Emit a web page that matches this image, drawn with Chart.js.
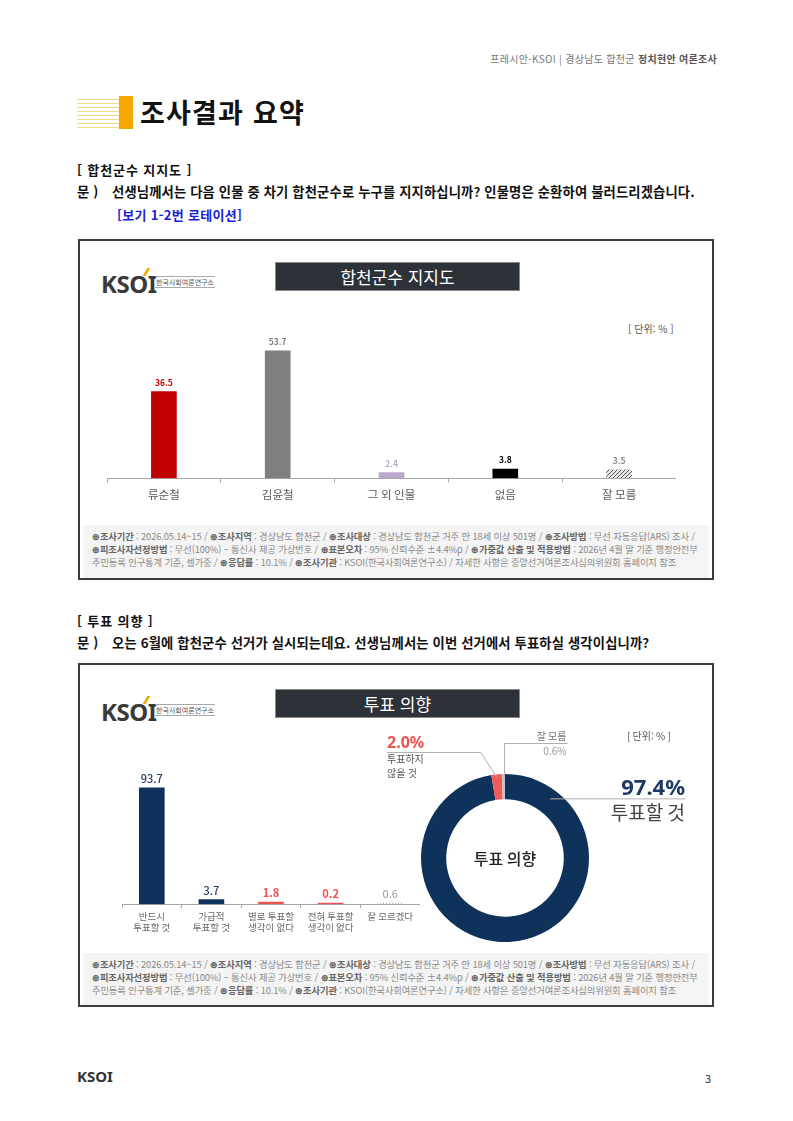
<!DOCTYPE html>
<html lang="ko">
<head>
<meta charset="utf-8">
<script src="https://cdn.jsdelivr.net/npm/chart.js@4.4.1/dist/chart.umd.min.js"></script>
<style>
  html,body{margin:0;padding:0;background:#fff;}
  body{width:793px;height:1121px;position:relative;overflow:hidden;font-family:"Noto Sans CJK KR","Noto Sans",sans-serif;}
  .abs{position:absolute;white-space:nowrap;}
  .hdr{right:76px;top:51px;font-size:10px;color:#777;letter-spacing:0.3px;}
  .hdr b{color:#555;font-weight:700;}
  .icon{left:77px;top:96px;width:56px;height:33px;
    background:repeating-linear-gradient(to bottom,#fff 0px,#fff 3px,#f6d98a 3px,#f6d98a 4px);}
  .icon:after{content:"";position:absolute;right:0;top:0;width:14px;height:33px;background:#f3a900;}
  .title{left:140px;top:92px;font-size:27px;font-weight:700;color:#111;letter-spacing:1.2px;}
  .sec{left:77px;font-size:13px;font-weight:700;color:#111;letter-spacing:0.9px;}
  .q{left:77px;font-size:13.3px;font-weight:700;color:#111;letter-spacing:0.15px;}
  .q span{position:absolute;left:35px;}
  .blue{left:117px;font-size:13px;font-weight:700;color:#1a24d6;letter-spacing:0.3px;}
  .box{position:absolute;left:78px;width:636px;box-sizing:border-box;border:2px solid #3c3c3c;background:#fff;}
  .banner{position:absolute;left:195px;width:245px;height:29px;background:#2d3138;color:#fff;font-size:17px;text-align:center;line-height:28px;border:1px solid #888;box-sizing:border-box;}
  .logo{position:absolute;left:21px;height:24px;width:120px;white-space:nowrap;}
  .logo .k{position:absolute;left:0;top:-3px;font-size:24px;font-weight:700;color:#3a3a3a;letter-spacing:-0.5px;font-family:"Noto Sans","Open Sans",sans-serif;}
  .logo .acc{position:absolute;left:44px;top:-2px;width:3px;height:8px;background:#f3a900;transform:skewX(-30deg);}
  .logo .sub{position:absolute;left:54px;top:6px;font-size:7px;color:#555;border-top:1px solid #aaa;border-bottom:1px solid #aaa;line-height:10px;padding:0 1px;white-space:nowrap;}
  .unit{font-size:10px;color:#555;}
  .foot{position:absolute;left:3px;right:3px;background:#f4f4f4;padding:5px 0 0 9px;box-sizing:border-box;}
  .foot div{font-size:9.3px;color:#8a8a8a;line-height:13px;white-space:nowrap;letter-spacing:-0.12px;}
  .foot b{color:#666;font-weight:700;}
  canvas{position:absolute;}
  .pnum{left:705px;top:1070px;font-size:11px;color:#333;}
  .flogo{left:77px;top:1066px;font-size:15px;font-weight:700;color:#333;font-family:"Noto Sans",sans-serif;}
</style>
</head>
<body>
<div class="abs hdr">프레시안-KSOI | 경상남도 합천군 <b>정치현안 여론조사</b></div>
<div class="abs icon"></div>
<div class="abs title">조사결과 요약</div>

<div class="abs sec" style="top:160px;">[ 합천군수 지지도 ]</div>
<div class="abs q" style="top:182px;">문 )<span>선생님께서는 다음 인물 중 차기 합천군수로 누구를 지지하십니까? 인물명은 순환하여 불러드리겠습니다.</span></div>
<div class="abs blue" style="top:205px;">[보기 1-2번 로테이션]</div>

<div class="box" style="top:239px;height:341px;">
  <div class="logo" style="top:29px;"><span class="k">KSOI</span><span class="acc"></span><span class="sub">한국사회여론연구소</span></div>
  <div class="banner" style="top:21px;">합천군수 지지도</div>
  <div class="abs unit" style="left:548px;top:80px;">[ 단위: % ]</div>
  <div class="foot" style="top:284px;height:53px;">
    <div><b>⊛조사기간</b> : 2026.05.14~15 / <b>⊛조사지역</b> : 경상남도 합천군 / <b>⊛조사대상</b> : 경상남도 합천군 거주 만 18세 이상 501명 / <b>⊛조사방법</b> : 무선 자동응답(ARS) 조사 /</div>
    <div><b>⊛피조사자선정방법</b> : 무선(100%) – 통신사 제공 가상번호 / <b>⊛표본오차</b> : 95% 신뢰수준 ±4.4%p / <b>⊛가중값 산출 및 적용방법</b> : 2026년 4월 말 기준 행정안전부</div>
    <div>주민등록 인구통계 기준, 셀가중 / <b>⊛응답률</b> : 10.1% / <b>⊛조사기관</b> : KSOI(한국사회여론연구소) / 자세한 사항은 중앙선거여론조사심의위원회 홈페이지 참조</div>
  </div>
</div>

<div class="abs sec" style="top:611px;">[ 투표 의향 ]</div>
<div class="abs q" style="top:633px;">문 )<span>오는 6월에 합천군수 선거가 실시되는데요. 선생님께서는 이번 선거에서 투표하실 생각이십니까?</span></div>

<div class="box" style="top:663px;height:344px;">
  <div class="logo" style="top:33px;"><span class="k">KSOI</span><span class="acc"></span><span class="sub">한국사회여론연구소</span></div>
  <div class="banner" style="top:24px;">투표 의향</div>
  <div class="foot" style="top:288px;height:52px;">
    <div><b>⊛조사기간</b> : 2026.05.14~15 / <b>⊛조사지역</b> : 경상남도 합천군 / <b>⊛조사대상</b> : 경상남도 합천군 거주 만 18세 이상 501명 / <b>⊛조사방법</b> : 무선 자동응답(ARS) 조사 /</div>
    <div><b>⊛피조사자선정방법</b> : 무선(100%) – 통신사 제공 가상번호 / <b>⊛표본오차</b> : 95% 신뢰수준 ±4.4%p / <b>⊛가중값 산출 및 적용방법</b> : 2026년 4월 말 기준 행정안전부</div>
    <div>주민등록 인구통계 기준, 셀가중 / <b>⊛응답률</b> : 10.1% / <b>⊛조사기관</b> : KSOI(한국사회여론연구소) / 자세한 사항은 중앙선거여론조사심의위원회 홈페이지 참조</div>
  </div>
</div>

<canvas id="c1" style="left:107px;top:336px;" width="569" height="172"></canvas>
<canvas id="c2" style="left:122px;top:760px;" width="298" height="175"></canvas>
<canvas id="c3" style="left:380px;top:725px;" width="320" height="225"></canvas>

<div class="abs flogo">KSOI</div>
<div class="abs pnum">3</div>

<script>
// ---- data ----
const supportLabels = ['류순철','김윤철','그 외 인물','없음','잘 모름'];
const supportValues = [36.5, 53.7, 2.4, 3.8, 3.5];

const intentLabels = [['반드시','투표할 것'],['가급적','투표할 것'],['별로 투표할','생각이 없다'],['전혀 투표할','생각이 없다'],['잘 모르겠다']];
const intentValues = [93.7, 3.7, 1.8, 0.2, 0.6];

const donutLabels = ['투표할 것','투표하지 않을 것','잘 모름'];
const donutValues = [97.4, 2.0, 0.6];

// ---- styling ----
Chart.defaults.font.family = '"Noto Sans CJK KR","Noto Sans",sans-serif';
Chart.defaults.animation = false;

function hatch(bg, fg){
  const c = document.createElement('canvas'); c.width = 4; c.height = 4;
  const x = c.getContext('2d');
  x.fillStyle = bg; x.fillRect(0,0,4,4);
  x.strokeStyle = fg; x.lineWidth = 1;
  x.beginPath(); x.moveTo(0,4); x.lineTo(4,0); x.moveTo(-1,1); x.lineTo(1,-1); x.moveTo(3,5); x.lineTo(5,3); x.stroke();
  return x.createPattern(c,'repeat');
}
function dots(){
  const c = document.createElement('canvas'); c.width = 3; c.height = 2;
  const x = c.getContext('2d');
  x.fillStyle = '#b5b5b5'; x.fillRect(0,0,1,2);
  return x.createPattern(c,'repeat');
}

const valueLabelPlugin = {
  id: 'valueLabels',
  afterDatasetsDraw(chart, args, opts){
    const ctx = chart.ctx;
    const meta = chart.getDatasetMeta(0);
    ctx.save();
    ctx.textAlign = 'center'; ctx.textBaseline = 'alphabetic';
    meta.data.forEach((el, i) => {
      const v = chart.data.datasets[0].data[i];
      ctx.fillStyle = opts.colors[i];
      ctx.font = (opts.weights ? opts.weights[i] : 'bold') + ' ' + opts.size + 'px "Noto Sans CJK KR","Noto Sans",sans-serif';
      ctx.fillText(v.toFixed(1), el.x, el.y - opts.gap);
    });
    ctx.restore();
  }
};

const axisX = (fontSize, color, pad) => ({
  type: 'category',
  offset: true,
  border: { display: true, color: '#a6a6a6', width: 1 },
  grid: { display: true, offset: true, drawOnChartArea: false, drawTicks: true, tickLength: 4, color: '#a6a6a6' },
  ticks: { font: { size: fontSize }, color: color, padding: pad, maxRotation: 0, autoSkip: false }
});

new Chart(document.getElementById('c1'), {
  type: 'bar',
  data: {
    labels: supportLabels,
    datasets: [{
      data: supportValues,
      backgroundColor: ['#c00000','#7f7f7f','#b9a9cc','#000000', hatch('#e6e6e6','#555555')],
      barThickness: 25
    }]
  },
  options: {
    responsive: false,
    layout: { padding: 0 },
    plugins: { legend: { display: false }, tooltip: { enabled: false },
      valueLabels: { colors: ['#c00000','#7f7f7f','#b9a9cc','#000000','#8c8c8c'], size: 8.5, gap: 6 } },
    scales: {
      x: axisX(11.5, '#595959', 6),
      y: { display: false, min: 0, max: 60 }
    }
  },
  plugins: [valueLabelPlugin]
});

new Chart(document.getElementById('c2'), {
  type: 'bar',
  data: {
    labels: intentLabels,
    datasets: [{
      data: intentValues,
      backgroundColor: ['#0e3259','#0e3259','#ef5350','#ef5350', dots()],
      barThickness: 25,
      minBarLength: 1
    }]
  },
  options: {
    responsive: false,
    layout: { padding: { top: 20 } },
    plugins: { legend: { display: false }, tooltip: { enabled: false },
      valueLabels: { colors: ['#24406a','#24406a','#ef5350','#ef5350','#9a9a9a'], weights: ['500','500','bold','bold','normal'], size: 11, gap: 5 } },
    scales: {
      x: axisX(9.5, '#6a6a6a', 2),
      y: { display: false, min: 0, max: 100 }
    }
  },
  plugins: [valueLabelPlugin]
});

const donutDecor = {
  id: 'donutDecor',
  afterDatasetsDraw(chart){
    const ctx = chart.ctx;
    const meta = chart.getDatasetMeta(0);
    const a = chart.chartArea;
    const cx = (a.left + a.right)/2, cy = (a.top + a.bottom)/2;
    const outer = meta.data[0].outerRadius;
    const pt = (el) => { const m = (el.startAngle + el.endAngle)/2; return [cx + Math.cos(m)*(outer-3), cy + Math.sin(m)*(outer-3)]; };
    ctx.save();
    // center text
    ctx.fillStyle = '#222'; ctx.textAlign = 'center'; ctx.textBaseline = 'middle';
    ctx.font = '500 16px "Noto Sans CJK KR",sans-serif';
    ctx.fillText('투표 의향', cx, cy + 1);
    ctx.strokeStyle = '#b0b0b0'; ctx.lineWidth = 1;
    // 97.4 leader
    let p;
    const yL = cy - outer*0.71;
    const xs = cx + Math.sqrt(outer*outer - (yL-cy)*(yL-cy)) - 14;
    ctx.beginPath(); ctx.moveTo(xs, yL + 0.5); ctx.lineTo(a.right + 96, yL + 0.5); ctx.stroke();
    ctx.textAlign = 'right'; ctx.textBaseline = 'alphabetic';
    ctx.fillStyle = '#1c3a64'; ctx.font = 'bold 22px "Noto Sans","Noto Sans CJK KR",sans-serif';
    ctx.fillText(donutValues[0].toFixed(1) + '%', a.right + 96, yL - 3);
    ctx.fillStyle = '#444'; ctx.font = '19px "Noto Sans CJK KR",sans-serif';
    ctx.fillText('투표할 것', a.right + 96, yL + 22);
    // 2.0 leader
    p = pt(meta.data[1]);
    ctx.beginPath(); ctx.moveTo(7, cy - outer - 21.5); ctx.lineTo(p[0] - 16, cy - outer - 21.5); ctx.lineTo(p[0], p[1]); ctx.stroke();
    ctx.textAlign = 'left';
    ctx.fillStyle = '#ef5350'; ctx.font = 'bold 16px "Noto Sans","Noto Sans CJK KR",sans-serif';
    ctx.fillText(donutValues[1].toFixed(1) + '%', 7, cy - outer - 26);
    ctx.fillStyle = '#555'; ctx.font = '10px "Noto Sans CJK KR",sans-serif';
    ctx.fillText('투표하지', 7, cy - outer - 11);
    ctx.fillText('않을 것', 7, cy - outer + 3);
    // 0.6 leader
    p = pt(meta.data[2]);
    ctx.beginPath(); ctx.moveTo(p[0] + 1, p[1]); ctx.lineTo(p[0] + 1, cy - outer - 30.5); ctx.lineTo(p[0] + 64, cy - outer - 30.5); ctx.stroke();
    ctx.textAlign = 'right';
    ctx.fillStyle = '#777'; ctx.font = '10px "Noto Sans CJK KR",sans-serif';
    ctx.fillText('잘 모름', p[0] + 63, cy - outer - 34);
    ctx.fillStyle = '#999';
    ctx.fillText(donutValues[2].toFixed(1) + '%', p[0] + 63, cy - outer - 19);
    // unit
    ctx.fillStyle = '#555'; ctx.font = '10px "Noto Sans CJK KR",sans-serif'; ctx.textAlign = 'left';
    ctx.fillText('[ 단위: % ]', 247, 15);
    ctx.restore();
  }
};

new Chart(document.getElementById('c3'), {
  type: 'doughnut',
  data: {
    labels: donutLabels,
    datasets: [{
      data: donutValues,
      backgroundColor: ['#0e3259','#f25b5b','#c4c4c4'],
      borderWidth: 0
    }]
  },
  options: {
    responsive: false,
    cutout: '70%',
    layout: { padding: { left: 41, right: 111, top: 49, bottom: 8 } },
    plugins: { legend: { display: false }, tooltip: { enabled: false } }
  },
  plugins: [donutDecor]
});
</script>
</body>
</html>
